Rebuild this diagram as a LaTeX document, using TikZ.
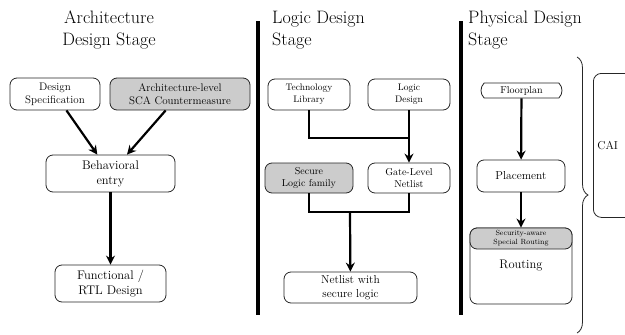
\documentclass[tikz,border=0pt]{standalone}
\usetikzlibrary{arrows.meta,shapes.misc,decorations.pathreplacing}

\begin{document}
\begin{tikzpicture}[
  x=1pt, y=-1pt,
  box/.style={draw=black!85, rounded corners=7pt, line width=0.8pt, align=center, inner sep=0pt},
  shaded/.style={box, fill=gray!40},
  flow/.style={line width=2.2pt, -{Stealth[length=9pt,width=9pt,inset=3pt]}},
  link/.style={line width=1.8pt},
  stage/.style={line width=4pt},
  title/.style={font=\fontsize{18}{22}\selectfont, align=left, anchor=north west, inner sep=0pt},
  brace/.style={decorate, decoration={brace, amplitude=11pt}, line width=0.8pt, draw=black!85}
]
  \useasboundingbox (0,0) rectangle (625,335);

  % Stage titles and separators
  \node[title, anchor=north, align=center] (t1) at (109,11) {Architecture\\Design Stage};
  \node[title] (t2) at (272,11) {Logic Design\\Stage};
  \node[title] (t3) at (468,11) {Physical Design\\Stage};
  \draw[stage] (258,21) -- (258,315);
  \draw[stage] (461,21) -- (461,315);

  % Architecture design stage
  \node[box, minimum width=90pt, minimum height=32pt, font=\fontsize{11}{13}\selectfont] (spec) at (55,94) {Design\\Specification};
  \node[shaded, minimum width=140pt, minimum height=32pt, font=\fontsize{11}{13}\selectfont] (arch) at (180,94) {Architecture-level\\SCA Countermeasure};
  \node[box, minimum width=129pt, minimum height=37pt, font=\fontsize{12.5}{15}\selectfont] (behav) at (110.5,173.5) {Behavioral\\entry};
  \node[box, minimum width=111pt, minimum height=37pt, font=\fontsize{12.5}{15}\selectfont] (rtl) at (110.5,283.5) {Functional /\\RTL Design};
  \draw[flow] (spec) -- (behav);
  \draw[flow] (arch) -- (behav);
  \draw[flow] (behav) -- (rtl);

  % Logic design stage
  \node[box, minimum width=82pt, minimum height=31pt, font=\fontsize{9.5}{12}\selectfont] (tech) at (309,94.5) {Technology\\Library};
  \node[box, minimum width=82pt, minimum height=31pt, font=\fontsize{9.5}{12}\selectfont] (logic) at (409,94.5) {Logic\\Design};
  \node[shaded, minimum width=88pt, minimum height=30pt, font=\fontsize{10}{12}\selectfont] (secure) at (309,178) {Secure\\Logic family};
  \node[box, minimum width=82pt, minimum height=30pt, font=\fontsize{10}{12}\selectfont] (gate) at (409,178) {Gate-Level\\Netlist};
  \node[box, minimum width=133pt, minimum height=31pt, font=\fontsize{11.5}{14.5}\selectfont] (net) at (350.5,287.5) {Netlist with\\secure logic};
  \coordinate (j1) at (409,138);
  \coordinate (j2) at (350,212);
  \draw[link] (tech.south) |- (j1);
  \draw[flow] (logic) -- (gate);
  \draw[link] (secure.south) |- (j2) -| (gate.south);
  \draw[flow] (j2) -- (net);

  % Physical design stage
  \node[draw=black!85, line width=0.8pt, rounded rectangle, rounded rectangle arc length=90, inner sep=0pt,
        minimum width=81pt, minimum height=15pt, font=\fontsize{10}{12}\selectfont] (floor) at (521.5,90.5) {Floorplan};
  \node[box, minimum width=88pt, minimum height=32pt, font=\fontsize{11.5}{14}\selectfont] (place) at (521,176) {Placement};
  \node[box, minimum width=102pt, minimum height=76pt, font=\fontsize{12.5}{15}\selectfont] (route) at (521,266) {Routing};
  \node[shaded, anchor=north, minimum width=102pt, minimum height=21pt, font=\fontsize{7.5}{9}\selectfont] (sar) at (route.north) {Security-aware\\Special Routing};
  \draw[flow] (floor) -- (place);
  \draw[flow] (place) -- (sar);

  % CAI brace
  \coordinate (btop) at (577,57);
  \coordinate (bbot) at (577,333);
  \draw[brace] (btop) -- (bbot);
  \begin{scope}
    \clip (0,0) rectangle (625,335);
    \node[box, rounded corners=8pt, anchor=north west, minimum width=70pt, minimum height=144pt, text width=62pt,
          inner xsep=4pt, align=left, font=\fontsize{11.5}{14}\selectfont] (cai) at (593,73) {CAI};
  \end{scope}
\end{tikzpicture}
\end{document}
